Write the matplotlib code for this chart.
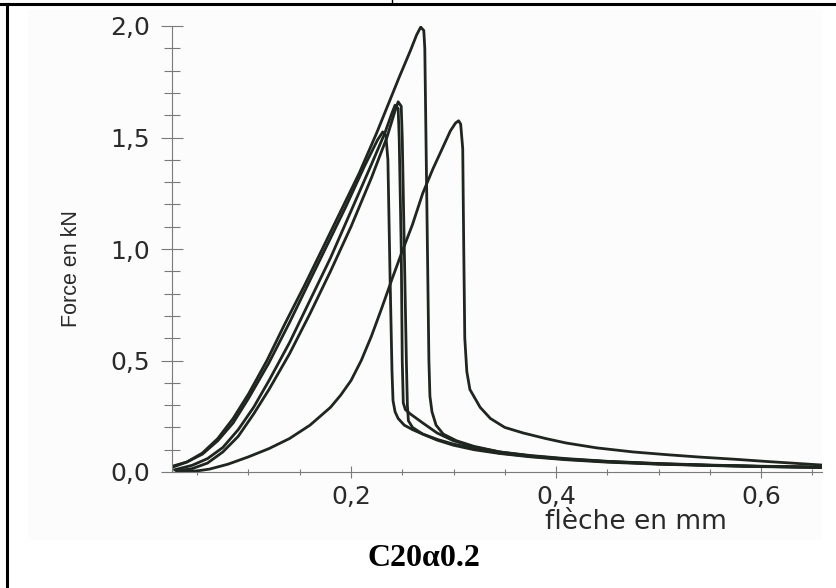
import matplotlib
matplotlib.use('Agg')
import matplotlib.pyplot as plt
from matplotlib.lines import Line2D
from matplotlib.patches import Rectangle
from matplotlib.ticker import MultipleLocator, FixedLocator

xA = [0.025, 0.04, 0.055, 0.07, 0.085, 0.10, 0.118, 0.135, 0.155, 0.172, 0.19, 0.208, 0.225,
      0.247, 0.258, 0.264, 0.268, 0.271, 0.272, 0.274, 0.276, 0.277, 0.279, 0.283, 0.29, 0.303,
      0.32, 0.345, 0.375, 0.41, 0.45, 0.5, 0.55, 0.6, 0.66]
yA = [0.02, 0.045, 0.085, 0.15, 0.24, 0.35, 0.5, 0.66, 0.84, 1.0, 1.17, 1.34, 1.52,
      1.77, 1.89, 1.96, 1.995, 1.98, 1.9, 1.2, 0.5, 0.34, 0.27, 0.21, 0.17, 0.14,
      0.115, 0.09, 0.074, 0.06, 0.048, 0.038, 0.031, 0.026, 0.022]

xE = [0.025, 0.04, 0.055, 0.07, 0.085, 0.10, 0.12, 0.14, 0.16, 0.177, 0.195, 0.213, 0.226,
      0.231, 0.234, 0.236, 0.238, 0.240, 0.241, 0.243, 0.246, 0.252, 0.26, 0.27, 0.285, 0.30,
      0.32, 0.345, 0.375, 0.41, 0.45, 0.5, 0.55, 0.6, 0.66]
yE = [0.025, 0.045, 0.08, 0.14, 0.22, 0.33, 0.49, 0.67, 0.86, 1.02, 1.19, 1.37, 1.49,
      1.525, 1.51, 1.4, 0.9, 0.45, 0.32, 0.27, 0.24, 0.21, 0.19, 0.17, 0.145, 0.125,
      0.105, 0.085, 0.07, 0.057, 0.046, 0.036, 0.03, 0.025, 0.021]

xC = [0.03, 0.045, 0.06, 0.075, 0.09, 0.105, 0.12, 0.14, 0.16, 0.18, 0.20, 0.22, 0.235,
      0.243, 0.246, 0.249, 0.250, 0.252, 0.254, 0.255, 0.256, 0.26, 0.27, 0.284, 0.30, 0.32,
      0.345, 0.375, 0.41, 0.45, 0.5, 0.55, 0.6, 0.66]
yC = [0.005, 0.015, 0.04, 0.09, 0.16, 0.26, 0.37, 0.53, 0.71, 0.9, 1.1, 1.32, 1.5,
      1.62, 1.66, 1.64, 1.5, 1.0, 0.5, 0.3, 0.23, 0.2, 0.17, 0.143, 0.12, 0.1,
      0.083, 0.068, 0.055, 0.044, 0.035, 0.029, 0.024, 0.02]

xD = [0.028, 0.045, 0.06, 0.075, 0.09, 0.105, 0.12, 0.14, 0.16, 0.18, 0.20, 0.22, 0.233,
      0.240, 0.243, 0.246, 0.247, 0.249, 0.250, 0.251, 0.253, 0.258, 0.27, 0.284, 0.30, 0.32,
      0.345, 0.375, 0.41, 0.45, 0.5, 0.55, 0.6, 0.66]
yD = [0.01, 0.03, 0.06, 0.11, 0.19, 0.29, 0.41, 0.58, 0.77, 0.96, 1.17, 1.38, 1.52,
      1.61, 1.645, 1.63, 1.5, 1.0, 0.5, 0.31, 0.28, 0.26, 0.22, 0.175, 0.14, 0.112,
      0.09, 0.072, 0.058, 0.047, 0.037, 0.03, 0.025, 0.021]

xB = [0.03, 0.05, 0.062, 0.08, 0.10, 0.12, 0.14, 0.16, 0.18, 0.19, 0.20, 0.21, 0.22, 0.23, 0.24,
      0.25, 0.26, 0.27, 0.28, 0.29, 0.297, 0.302, 0.305, 0.307, 0.309, 0.310, 0.311, 0.313, 0.316,
      0.326, 0.336, 0.35, 0.368, 0.39, 0.41, 0.44, 0.475, 0.51, 0.54, 0.575, 0.606, 0.63, 0.66]
yB = [0.0, 0.005, 0.013, 0.035, 0.068, 0.105, 0.15, 0.21, 0.29, 0.345, 0.41, 0.5, 0.61, 0.735, 0.865,
      0.99, 1.11, 1.25, 1.36, 1.46, 1.53, 1.565, 1.575, 1.56, 1.45, 1.0, 0.6, 0.45, 0.37,
      0.29, 0.24, 0.2, 0.175, 0.15, 0.13, 0.108, 0.09, 0.077, 0.067, 0.057, 0.047, 0.04, 0.031]

courbes = [(xA, yA), (xE, yE), (xC, yC), (xD, yD), (xB, yB)]

xticks = [0.2, 0.4, 0.6]
xticklabels = ['0,2', '0,4', '0,6']
yticks = [0.0, 0.5, 1.0, 1.5, 2.0]
yticklabels = ['0,0', '0,5', '1,0', '1,5', '2,0']

fig = plt.figure(figsize=(8.37, 5.88), dpi=100)
fig.patch.set_facecolor('white')

# zone grisee du scan
fig.add_artist(Rectangle((28/837, 1-540/588), (822-28)/837, (540-10)/588,
                         transform=fig.transFigure, facecolor='#fcfcfc', edgecolor='none', zorder=0))

ax = fig.add_axes([172/837, 1-472/588, 650/837, 446/588])
ax.set_facecolor('none')

couleur = '#1f2620'
for x, y in courbes:
    ax.plot(x, y, color=couleur, lw=2.0, solid_joinstyle='round')

ax.set_xlim(0.02537, 0.6595)
ax.set_ylim(0, 2.0)

for s in ['top', 'right']:
    ax.spines[s].set_visible(False)
for s in ['left', 'bottom']:
    ax.spines[s].set_color('#7a7a7a')
    ax.spines[s].set_linewidth(0.8)

ax.xaxis.set_major_locator(FixedLocator(xticks))
ax.xaxis.set_minor_locator(MultipleLocator(0.05))
ax.yaxis.set_major_locator(FixedLocator(yticks))
ax.yaxis.set_minor_locator(MultipleLocator(0.1))
ax.set_xticklabels(xticklabels)
ax.set_yticklabels(yticklabels)

ax.tick_params(axis='y', which='major', direction='inout', length=16, width=0.8, color='#7a7a7a', pad=8)
ax.tick_params(axis='y', which='minor', direction='inout', length=11, width=0.8, color='#7a7a7a')
ax.tick_params(axis='x', which='major', direction='inout', length=9, width=0.8, color='#7a7a7a', pad=5)
ax.tick_params(axis='x', which='minor', direction='inout', length=5, width=0.8, color='#7a7a7a')
for lab in ax.get_xticklabels() + ax.get_yticklabels():
    lab.set_fontfamily('DejaVu Sans')
    lab.set_fontsize(18)
    lab.set_color('#2a2a2a')

ax.set_xlabel('flèche en mm', fontsize=19, family='DejaVu Sans', color='#2a2a2a')
ax.xaxis.set_label_coords(0.714, -0.112)
ax.xaxis.label.set_va('center')
ax.set_ylabel('Force en kN', fontsize=15.5, family='Liberation Sans', color='#2a2a2a')
ax.yaxis.set_label_coords(-0.154, 0.457)
ax.yaxis.label.set_va('center')

fig.text(424/837, 1-559/588, 'C20α0.2', ha='center', va='center', fontsize=23,
         fontweight='bold', family='Liberation Serif', color='black')

# bordures du tableau
fig.add_artist(Line2D([0, 1], [1-4/588, 1-4/588], color='black', lw=2.2))
fig.add_artist(Line2D([7.5/837, 7.5/837], [0, 1-4/588], color='black', lw=2.2))
fig.add_artist(Line2D([392/837, 392/837], [1-4/588, 1], color='black', lw=1.0))

fig.savefig('out.png', dpi=100)
